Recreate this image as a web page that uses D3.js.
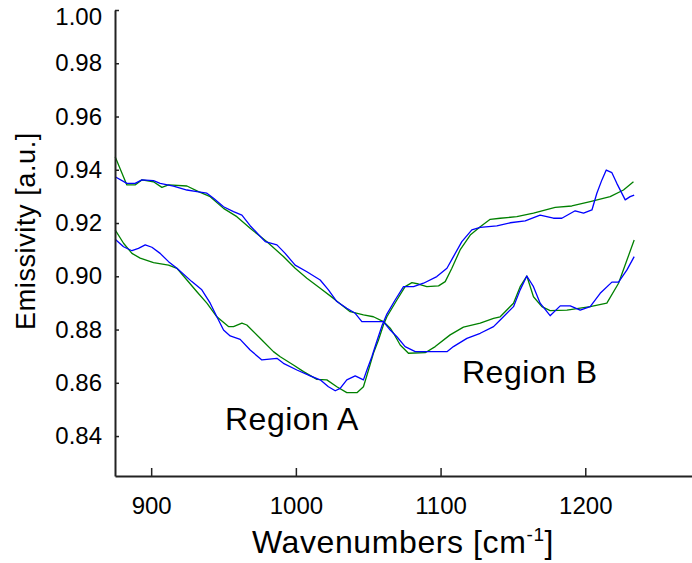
<!DOCTYPE html>
<html>
<head>
<meta charset="utf-8">
<script src="https://cdn.jsdelivr.net/npm/d3@7"></script>
<style>
  html, body { margin: 0; padding: 0; background: #fff; }
  svg { display: block; }
  text { font-family: "Liberation Sans", Arial, sans-serif; fill: #000; }
</style>
</head>
<body>
<svg id="chart" width="692" height="563"></svg>
<script>
// ---- data ----
const xTicks = [900, 1000, 1100, 1200];
const yTicks = [0.84, 0.86, 0.88, 0.90, 0.92, 0.94, 0.96, 0.98, 1.00];

// sample 1, blue: high at left, falls into the Region B dip
const blue1Wn = [875.1,883.2,888.9,893.6,901.6,906.2,915.4,924.7,931.6,938.5,943.1,950.0,956.9,962.7,968.4,978.8,986.9,992.6,999.5,1007.6,1016.8,1022.5,1028.3,1035.2,1041.0,1045.6,1056.0,1060.5,1065.2,1069.8,1075.5,1082.5,1092.8,1104.4,1108.9,1118.2,1127.4,1136.6,1141.2,1150.4,1155.0,1159.6,1164.2,1168.8,1175.7,1182.7,1189.6,1196.5,1203.4,1210.3,1218.4,1223.0,1228.8,1233.8];
const blue1Em = [.9374,.9349,.9349,.9362,.9359,.9349,.9339,.9324,.9318,.9312,.9293,.9261,.9243,.9230,.9190,.9130,.9118,.9086,.9042,.9017,.8986,.8949,.8905,.8880,.8861,.8830,.8830,.8830,.8798,.8773,.8736,.8717,.8717,.8717,.8736,.8767,.8786,.8811,.8836,.8886,.8949,.9001,.8961,.8899,.8852,.8889,.8889,.8873,.8886,.8936,.8978,.8978,.9024,.9074];

// sample 1, green
const green1Wn = [875.1,883.2,888.9,893.6,901.6,907.4,912.0,924.7,932.7,940.8,950.0,959.2,968.4,980.0,991.4,999.5,1007.6,1016.8,1026.0,1037.5,1046.7,1053.6,1060.5,1065.2,1067.5,1072.1,1077.8,1089.4,1096.3,1106.6,1115.8,1127.4,1136.6,1141.2,1150.4,1155.0,1159.6,1164.2,1170.0,1175.7,1187.3,1203.4,1214.9,1223.0,1228.8,1233.8];
const green1Em = [.9449,.9343,.9343,.9362,.9355,.9334,.9343,.9339,.9318,.9299,.9255,.9224,.9180,.9130,.9074,.9030,.8993,.8955,.8917,.8867,.8855,.8848,.8830,.8805,.8786,.8742,.8711,.8713,.8736,.8780,.8809,.8824,.8842,.8848,.8899,.8961,.9001,.8923,.8886,.8871,.8873,.8886,.8899,.8974,.9061,.9136];

// sample 2, blue: low at left (Region A dip), rises to the upper right
const blue2Wn = [875.1,880.9,886.7,891.2,895.9,900.5,906.2,912.0,917.8,928.1,935.0,940.8,945.4,950.0,954.6,961.5,968.4,976.5,986.9,991.4,1000.7,1009.9,1016.8,1022.5,1027.2,1030.6,1035.2,1041.0,1046.7,1049.1,1052.5,1056.0,1059.4,1062.9,1068.6,1074.4,1081.3,1088.2,1097.4,1104.4,1108.9,1114.7,1121.6,1127.4,1138.9,1148.1,1158.5,1168.8,1178.0,1183.8,1193.0,1198.8,1204.6,1208.0,1211.5,1214.5,1218.4,1221.8,1227.6,1231.0,1233.8];
const blue2Em = [.9139,.9111,.9096,.9105,.9118,.9109,.9086,.9055,.9030,.8980,.8949,.8899,.8848,.8798,.8776,.8763,.8723,.8686,.8692,.8673,.8648,.8626,.8611,.8585,.8570,.8579,.8611,.8626,.8611,.8648,.8698,.8757,.8813,.8858,.8911,.8961,.8961,.8974,.8999,.9030,.9074,.9130,.9174,.9184,.9189,.9201,.9208,.9230,.9218,.9218,.9246,.9237,.9249,.9312,.9362,.9399,.9389,.9349,.9287,.9299,.9305];

// sample 2, green
const green2Wn = [875.1,880.9,886.7,892.4,901.6,912.0,917.8,924.7,931.6,938.5,945.4,953.4,956.9,962.7,966.1,975.3,984.5,989.2,998.3,1005.3,1014.5,1021.4,1028.3,1035.2,1042.2,1046.7,1050.2,1053.6,1057.1,1060.5,1062.9,1069.8,1075.5,1080.2,1084.7,1090.5,1098.6,1103.2,1107.8,1113.5,1120.5,1127.4,1134.3,1141.2,1152.7,1164.2,1179.2,1190.7,1203.4,1217.2,1226.4,1233.3];
const green2Em = [.9174,.9124,.9086,.9068,.9051,.9042,.9030,.8986,.8942,.8899,.8848,.8811,.8811,.8824,.8817,.8767,.8717,.8698,.8667,.8642,.8613,.8611,.8585,.8563,.8563,.8585,.8648,.8711,.8761,.8817,.8848,.8911,.8961,.8976,.8971,.8961,.8964,.8980,.9030,.9099,.9155,.9186,.9214,.9218,.9224,.9237,.9259,.9264,.9280,.9299,.9324,.9355];

const seriesList = [
  { wn: green1Wn, em: green1Em, color: "#008000" },
  { wn: green2Wn, em: green2Em, color: "#008000" },
  { wn: blue1Wn,  em: blue1Em,  color: "#0000ff" },
  { wn: blue2Wn,  em: blue2Em,  color: "#0000ff" }
];

// ---- chart ----
const svg = d3.select("#chart");
const x = d3.scaleLinear().domain([875, 1275]).range([115, 693.8]);
const y = d3.scaleLinear().domain([0.825, 1.0]).range([476, 10]);

const line = d3.line().x(d => x(d[0])).y(d => y(d[1]));

seriesList.forEach(s => {
  const pts = s.wn.map((w, i) => [w, s.em[i]]);
  svg.append("path")
    .datum(pts)
    .attr("fill", "none")
    .attr("stroke", s.color)
    .attr("stroke-width", 1.3)
    .attr("stroke-linejoin", "round")
    .attr("d", line);
});

const yAxis = d3.axisLeft(y).tickValues(yTicks).tickFormat(d3.format(".2f"))
  .tickSizeInner(-4).tickSizeOuter(0).tickPadding(13);
const xAxis = d3.axisBottom(x).tickValues(xTicks).tickFormat(d3.format("d"))
  .tickSizeInner(-8).tickSizeOuter(0).tickPadding(21);

const gy = svg.append("g").attr("transform", "translate(115,0)").call(yAxis);
const gx = svg.append("g").attr("transform", "translate(0,476)").call(xAxis);

[gx, gy].forEach(g => {
  g.select(".domain").attr("stroke", "#222").attr("stroke-width", 2);
  g.selectAll(".tick line").attr("stroke", "#222").attr("stroke-width", 1.5);
  g.selectAll(".tick text")
    .style("font-family", '"Liberation Sans", Arial, sans-serif')
    .style("font-size", "24px").attr("fill", "#000");
});
// the top label sits a little lower so it stays inside the picture
gy.selectAll(".tick text").filter(d => d === 1.00).attr("y", 7);

// axis titles
svg.append("text")
  .attr("transform", "translate(35,231) rotate(-90)")
  .attr("text-anchor", "middle")
  .style("font-size", "27px")
  .style("letter-spacing", "0.6px")
  .text("Emissivity [a.u.]");

const xl = svg.append("text")
  .attr("x", 403).attr("y", 553)
  .attr("text-anchor", "middle")
  .style("font-size", "32px")
  .style("letter-spacing", "0.6px");
xl.append("tspan").text("Wavenumbers [cm");
xl.append("tspan").attr("dy", -12).style("font-size", "19px").text("-1");
xl.append("tspan").attr("dy", 12).text("]");

// region annotations
svg.append("text").attr("x", 225).attr("y", 430).style("font-size", "32px").style("letter-spacing", "0.5px").text("Region A");
svg.append("text").attr("x", 462).attr("y", 383).style("font-size", "32px").style("letter-spacing", "0.5px").text("Region B");
</script>
</body>
</html>
